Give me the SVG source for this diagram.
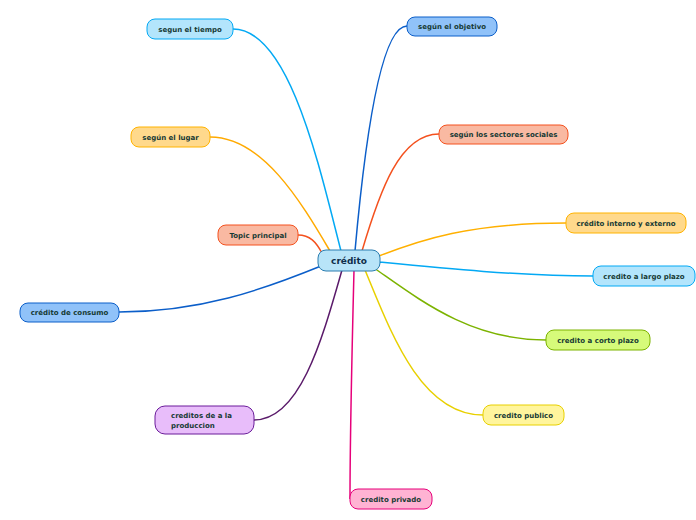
<svg xmlns="http://www.w3.org/2000/svg" width="696" height="520" viewBox="0 0 696 520">
<style>
.t{font-family:"DejaVu Sans",Verdana,sans-serif;font-weight:bold;font-size:7px;fill:#163a34}
.c{fill:none;stroke-width:1.5}
.n{stroke-width:1}
</style>
<rect width="696" height="520" fill="#ffffff"/>
<g id="connectors">
<path class="c" stroke="#03a9f4" d="M233,29 C290,29 320,170 341,251"/>
<path class="c" stroke="#0b5ec9" d="M407,26 C380,26 364,150 355,251"/>
<path class="c" stroke="#ffaa00" d="M210,137 C262,137 300,200 330,251"/>
<path class="c" stroke="#f4511e" d="M439,134 C400,134 380,190 362,251"/>
<path class="c" stroke="#f4511e" d="M298,235 C310,235 316,242 322,253"/>
<path class="c" stroke="#ffb000" d="M566,223 C470,223 420,240 379,256"/>
<path class="c" stroke="#03a9f4" d="M593,276 C520,276 440,268 379,262"/>
<path class="c" stroke="#7cb300" d="M546,340 C470,340 420,300 374,268"/>
<path class="c" stroke="#e8d000" d="M483,415 C420,415 390,330 365,270"/>
<path class="c" stroke="#e6007a" d="M350,499 C350,440 352,350 354,270"/>
<path class="c" stroke="#5a1a6a" d="M254,420 C300,420 322,340 342,270"/>
<path class="c" stroke="#0b5ec9" d="M119,312 C200,312 262,290 321,266"/>
</g>
<g id="n-tiempo"><rect class="n" x="147" y="19" width="86" height="20" rx="8" fill="#b3e5fc" stroke="#03a9f4"/><text class="t" x="190" y="31.5" text-anchor="middle">segun el tiempo</text></g>
<g id="n-objetivo"><rect class="n" x="407" y="17" width="90" height="19" rx="8" fill="#90c2f9" stroke="#0b5ec9"/><text class="t" x="452" y="29" text-anchor="middle">según el objetivo</text></g>
<g id="n-lugar"><rect class="n" x="131" y="127" width="79" height="20" rx="8" fill="#ffd98c" stroke="#ffb300"/><text class="t" x="170.5" y="139.5" text-anchor="middle">según el lugar</text></g>
<g id="n-sectores"><rect class="n" x="439" y="125" width="129" height="19" rx="8" fill="#f9b9a2" stroke="#f4511e"/><text class="t" x="503.5" y="137" text-anchor="middle">según los sectores sociales</text></g>
<g id="n-topic"><rect class="n" x="218" y="225" width="80" height="20" rx="8" fill="#f9b9a2" stroke="#f4511e"/><text class="t" x="258" y="237.5" text-anchor="middle">Topic principal</text></g>
<g id="n-interno"><rect class="n" x="566" y="213" width="120" height="20" rx="8" fill="#ffd98c" stroke="#ffb300"/><text class="t" x="626" y="225.5" text-anchor="middle">crédito interno y externo</text></g>
<g id="n-largo"><rect class="n" x="593" y="266" width="102" height="20" rx="8" fill="#b3e5fc" stroke="#03a9f4"/><text class="t" x="644" y="278.5" text-anchor="middle">credito a largo plazo</text></g>
<g id="n-corto"><rect class="n" x="546" y="330" width="104" height="20" rx="8" fill="#d6fa7a" stroke="#7cb300"/><text class="t" x="598" y="342.5" text-anchor="middle">credito a corto plazo</text></g>
<g id="n-publico"><rect class="n" x="483" y="405" width="81" height="20" rx="8" fill="#fff59d" stroke="#e8d000"/><text class="t" x="523.5" y="417.5" text-anchor="middle">credito publico</text></g>
<g id="n-privado"><rect class="n" x="350" y="489" width="82" height="20" rx="8" fill="#ffb3d3" stroke="#e6007a"/><text class="t" x="391" y="501.5" text-anchor="middle">credito privado</text></g>
<g id="n-produccion"><rect class="n" x="155" y="406" width="99" height="28" rx="10" fill="#e8bdfa" stroke="#6a1b9a"/><text class="t" x="171" y="418">creditos de a la</text><text class="t" x="171" y="428">produccion</text></g>
<g id="n-consumo"><rect class="n" x="20" y="303" width="99" height="19" rx="8" fill="#90c2f9" stroke="#0b5ec9"/><text class="t" x="69.5" y="315" text-anchor="middle">crédito de consumo</text></g>
<g id="n-credito"><rect class="n" x="318" y="250" width="62" height="21" rx="8" fill="#b8e4f8" stroke="#2a7db0"/><text class="t" x="349" y="264" text-anchor="middle" style="font-size:9px;fill:#0f2d4a">crédito</text></g>
</svg>
